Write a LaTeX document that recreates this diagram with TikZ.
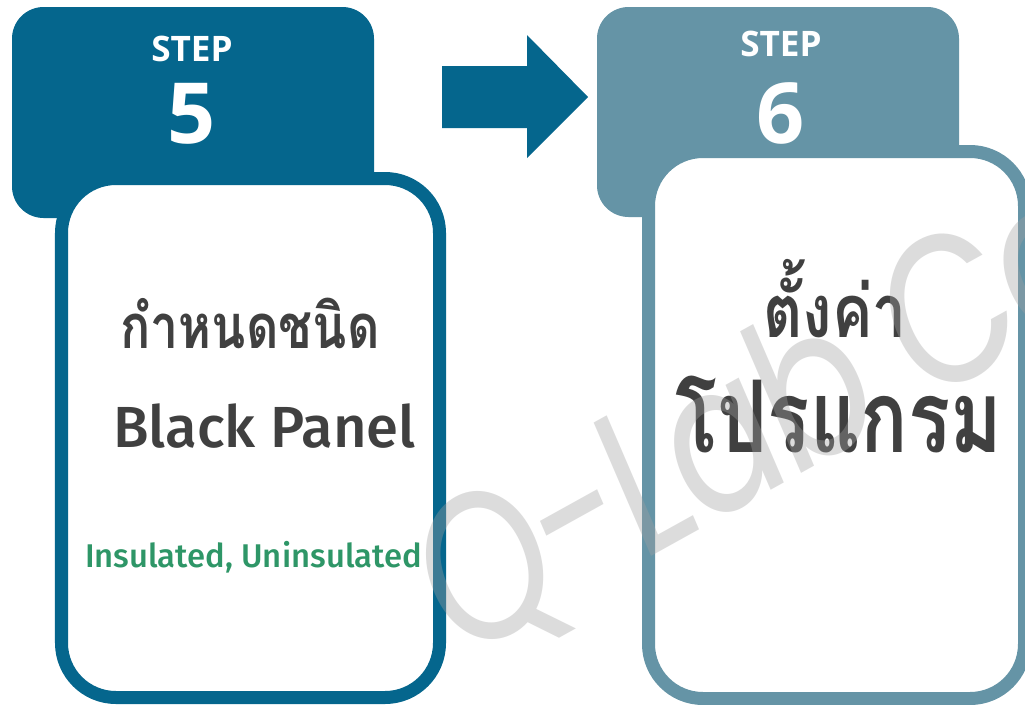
\documentclass[tikz,border=0pt]{standalone}
\usepackage{fontspec}
\setmainfont{Open Sans}
\newfontfamily\thaifont[Script=Thai]{Loma}
\IfFontExistsTF{Fira Sans Medium}{\newfontfamily\panelfont{Fira Sans Medium}}{\newfontfamily\panelfont{Fira Sans}}
\newfontfamily\markfont[LetterSpace=-3]{Poppins}
\definecolor{stepdark}{RGB}{5,102,141}
\definecolor{steplight}{RGB}{101,148,166}
\definecolor{textgrey}{RGB}{64,64,64}
\definecolor{typegreen}{RGB}{46,150,103}
\definecolor{markgrey}{RGB}{161,161,161}

\begin{document}
\begin{tikzpicture}[x=0.02cm, y=-0.02cm,
  header/.style={rounded corners=18pt},
  panel/.style={fill=white, line width=7.4pt, rounded corners=31pt},
  steptext/.style={anchor=base, text=white, font=\bfseries\fontsize{20}{20}\selectfont},
  stepnum/.style={anchor=base, text=white, font=\bfseries\fontsize{48}{48}\selectfont},
  thaitext/.style={anchor=base, text=textgrey},
  every node/.style={inner sep=0pt}]
  \clip (0,0) rectangle (1025,704);
  \fill[white] (0,0) rectangle (1025,704);
  % step 5
  \fill[stepdark, header] (12,7) rectangle (374,218);
  \draw[stepdark, panel] (61.5,178.5) rectangle (439.5,697.5);
  % step 6
  \fill[steplight, header] (597,7) rectangle (959,217);
  \draw[steplight, panel] (648.5,151.5) rectangle (1024.5,698.5);
  % arrow between the steps
  \fill[stepdark] (442,66) -- (527,66) -- (527,35) -- (588,97) -- (527,158)
    -- (527,128) -- (442,128) -- cycle;
  \node[steptext] (step5) at (192,61) {STEP};
  \node[stepnum] (num5) at (192,143) {5};
  \node[steptext] (step6) at (781,56) {STEP};
  \node[stepnum] (num6) at (781,143) {6};
  \node[thaitext, xscale=0.815, font=\thaifont\bfseries\fontsize{35}{35}\selectfont] (define) at (250,348) {กำหนดชนิด};
  \node[anchor=base, text=textgrey, font=\panelfont\fontsize{33}{33}\selectfont] (panel) at (264.5,447) {Black Panel};
  \node[anchor=base, text=typegreen, font=\panelfont\fontsize{18.7}{18.7}\selectfont] (types) at (253.5,567) {Insulated, Uninsulated};
  \node[thaitext, xscale=0.82, font=\thaifont\bfseries\fontsize{42}{42}\selectfont] (set) at (835,337) {ตั้งค่า};
  \node[thaitext, xscale=0.785, font=\thaifont\bfseries\fontsize{57}{57}\selectfont] (program) at (839,452) {โปรแกรม};
  % watermark
  \node[anchor=base west, rotate=29, xslant=0.1, xscale=0.79, text=markgrey, text opacity=0.37,
    font=\markfont\fontsize{118}{118}\selectfont] (mark) at (457,664) {Q-Lab Co};
\end{tikzpicture}
\end{document}
